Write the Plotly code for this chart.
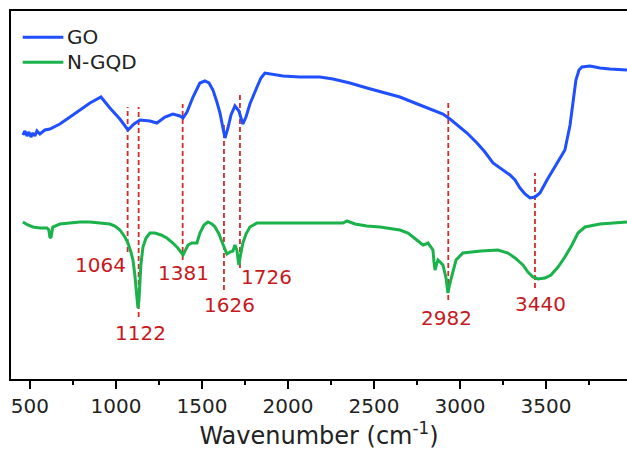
import plotly.graph_objects as go

# ---------------- data ----------------
# GO spectrum: wavenumber (cm-1) and relative transmittance (a.u.)
go_wn = [459, 471, 483, 494, 506, 517, 529, 541, 558, 587, 616, 674, 733, 791, 849, 913,
         965, 1023, 1070, 1105, 1140, 1198, 1238, 1285, 1331, 1372, 1390, 1413, 1448, 1488,
         1517, 1541, 1564, 1587, 1605, 1622, 1634, 1651, 1669, 1692, 1715, 1727, 1738, 1756,
         1779, 1820, 1843, 1866, 1895, 1971, 2070, 2186, 2262, 2360, 2459, 2564, 2651, 2738,
         2808, 2860, 2901, 2942, 2983, 3041, 3099, 3145, 3192, 3250, 3291, 3320, 3349, 3378,
         3407, 3436, 3465, 3506, 3541, 3581, 3610, 3640, 3657, 3674, 3692, 3709, 3756, 3814,
         3872, 3930, 3971]
go_val = [244, 248, 243, 247, 242, 246, 243, 248, 245, 249, 250, 255, 262, 269, 276, 282,
          271, 260, 249, 255, 259, 258, 256, 262, 265, 263, 261, 267, 282, 296,
          298, 296, 289, 277, 266, 251, 241, 251, 264, 273, 268, 261, 255, 262,
          275, 292, 301, 306, 305, 303, 302, 302, 300, 296, 291, 286, 282, 276,
          271, 268, 265, 260, 254, 246, 236, 227, 216, 209, 204, 199, 191, 185,
          181, 182, 186, 199, 209, 221, 229, 254, 279, 299, 309, 312, 313, 311,
          310, 309, 309]

# N-GQD spectrum
ngqd_wn = [459, 488, 517, 558, 599, 610, 616, 622, 628, 633, 674, 733, 791, 849, 907, 965,
           994, 1023, 1052, 1070, 1087, 1099, 1110, 1122, 1128, 1134, 1140, 1145, 1157, 1175,
           1198, 1227, 1262, 1296, 1331, 1360, 1390, 1407, 1419, 1442, 1471, 1488, 1512, 1535,
           1558, 1576, 1599, 1617, 1634, 1645, 1663, 1680, 1692, 1703, 1709, 1715, 1721, 1738,
           1756, 1779, 1820, 1895, 2012, 2186, 2320, 2343, 2360, 2390, 2459, 2535, 2651, 2698,
           2727, 2756, 2785, 2802, 2814, 2831, 2843, 2849, 2855, 2866, 2872, 2884, 2901, 2919,
           2930, 2942, 2959, 2977, 3017, 3122, 3221, 3279, 3320, 3366, 3395, 3424, 3453, 3494,
           3529, 3570, 3610, 3651, 3686, 3727, 3814, 3913, 3971]
ngqd_val = [157, 154, 152, 151, 151, 149, 142, 141, 147, 152, 155, 156, 157, 157, 156, 155,
            153, 149, 142, 136, 127, 119, 104, 84, 71, 79, 96, 114, 132, 141,
            146, 146, 144, 141, 136, 131, 124, 130, 134, 136, 136, 146, 154, 157,
            155, 152, 145, 137, 129, 125, 127, 128, 134, 129, 121, 114, 121, 136,
            145, 152, 156, 156, 156, 156, 156, 158, 157, 155, 153, 152, 149, 146,
            142, 138, 134, 135, 136, 132, 129, 117, 109, 116, 119, 117, 114, 101,
            86, 96, 107, 119, 126, 128, 129, 126, 121, 114, 107, 102, 100, 101,
            104, 112, 122, 134, 146, 152, 155, 156, 157]

series_names = ["GO", "N-GQD"]

# peak guide lines and their labels
peak_labels = ["1064", "1122", "1381", "1626", "1726", "2982", "3440"]
peak_line_wn = [1068, 1132, 1388, 1628, 1721, 2932, 3436]
peak_line_top = [272, 272, 275, 256, 284, 279, 206]
peak_line_bottom = [127, 62, 119, 89, 111, 79, 91]
label_wn = [913, 1140, 1390, 1663, 1878, 2924, 3471]
label_val = [114, 46, 106, 74, 102, 61, 75]

x_ticks = [500, 1000, 1500, 2000, 2500, 3000, 3500]

# ---------------- styling ----------------
BLUE = "#1f4fff"
GREEN = "#19b24b"
RED = "#d42a2a"
LABEL_RED = "#c8191e"
TEXT = "#222222"
FONT = "DejaVu Sans"
colors = [BLUE, GREEN]

fig = go.Figure()
fig.add_trace(go.Scatter(x=go_wn, y=go_val, mode="lines", name=series_names[0],
                         line=dict(color=BLUE, width=3), showlegend=False))
fig.add_trace(go.Scatter(x=ngqd_wn, y=ngqd_val, mode="lines", name=series_names[1],
                         line=dict(color=GREEN, width=3), showlegend=False))

for wn, top, bot in zip(peak_line_wn, peak_line_top, peak_line_bottom):
    fig.add_shape(type="line", xref="x", yref="y", x0=wn, x1=wn, y0=bot, y1=top,
                  line=dict(color=RED, width=1.8, dash="5px,3px"), layer="below")

for lab, wn, v in zip(peak_labels, label_wn, label_val):
    fig.add_annotation(x=wn, y=v, xref="x", yref="y", text=lab, showarrow=False,
                       font=dict(family=FONT, size=20, color=LABEL_RED),
                       xanchor="center", yanchor="middle")

# legend (drawn in the top-left corner of the plot area)
legend_y = [0.929, 0.861]
for name, col, ly in zip(series_names, colors, legend_y):
    fig.add_shape(type="line", xref="paper", yref="paper", x0=0.019, x1=0.085,
                  y0=ly, y1=ly, line=dict(color=col, width=3))
    fig.add_annotation(x=0.087, y=ly, xref="paper", yref="paper", text=name,
                       showarrow=False, xanchor="left", yanchor="middle",
                       font=dict(family=FONT, size=20, color=TEXT))

fig.update_layout(
    width=627, height=451,
    margin=dict(l=11, r=0, t=11, b=72),
    paper_bgcolor="white", plot_bgcolor="white",
    font=dict(family=FONT, size=20, color=TEXT),
    showlegend=False,
)
fig.update_xaxes(
    range=[390, 3971], showgrid=False, zeroline=False,
    showline=True, linecolor="black", linewidth=2, mirror=True,
    ticks="outside", ticklen=8, tickwidth=2, tickcolor="black",
    tickvals=x_ticks, ticktext=[str(t) for t in x_ticks],
    tickfont=dict(family=FONT, size=20, color=TEXT),
    minor=dict(ticks="outside", ticklen=4, tickwidth=2, tickcolor="black",
               tick0=750, dtick=500),
    title=dict(text="Wavenumber (cm<sup>-1</sup>)",
               font=dict(family=FONT, size=24, color=TEXT), standoff=8),
)
fig.update_yaxes(
    range=[0, 368], showgrid=False, zeroline=False,
    showline=True, linecolor="black", linewidth=2, mirror=False,
    showticklabels=False, ticks="",
)

fig.write_html("out.html")
